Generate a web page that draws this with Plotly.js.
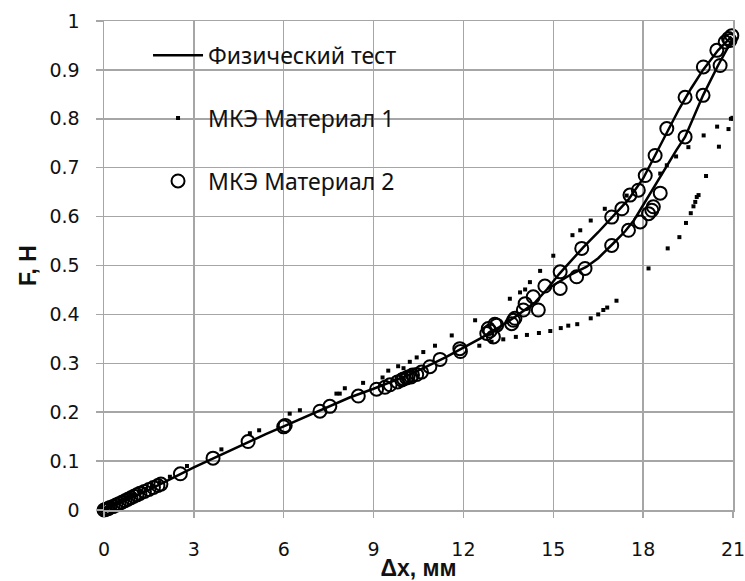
<!DOCTYPE html>
<html>
<head>
<meta charset="utf-8">
<script src="https://cdn.plot.ly/plotly-3.0.1.min.js"></script>
<style>html,body{margin:0;padding:0;background:#fff;}#chart{width:745px;height:581px;}</style>
</head>
<body>
<div id="chart"></div>
<script>
// Physical test, sample A (upper branch)
const testAx = [0, 0.5, 1, 1.5, 2, 2.5, 3, 3.6, 4.2, 4.8, 5.4, 6, 6.7, 7.5, 8.2, 9, 9.6, 10.2, 10.8, 11.4, 12, 12.6, 13.2, 13.8, 14.4, 14.8, 15.2, 15.6, 16, 16.5, 17, 17.5, 18, 18.4, 18.8, 19.2, 19.6, 20, 20.5, 20.95];
const testAy = [0, 0.013, 0.027, 0.041, 0.057, 0.072, 0.087, 0.104, 0.122, 0.139, 0.155, 0.171, 0.19, 0.212, 0.23, 0.248, 0.262, 0.277, 0.294, 0.312, 0.332, 0.352, 0.374, 0.398, 0.425, 0.452, 0.483, 0.51, 0.537, 0.568, 0.6, 0.634, 0.678, 0.725, 0.775, 0.82, 0.862, 0.9, 0.94, 0.968];
// Physical test, sample B (lower branch)
const testBx = [14.8, 15.2, 15.6, 16.1, 16.5, 17, 17.4, 17.7, 18.2, 18.7, 19.1, 19.4, 19.7, 20, 20.5, 21];
const testBy = [0.452, 0.467, 0.482, 0.497, 0.515, 0.545, 0.57, 0.593, 0.644, 0.697, 0.735, 0.763, 0.805, 0.848, 0.909, 0.965];

// FEM material 1 (small dots)
const mat1x = [0, 0.05, 0.1, 0.15, 0.2, 0.3, 0.4, 0.5, 0.6, 0.7, 0.8, 0.9, 1.0, 1.2, 1.4, 1.6, 1.85, 2.2, 2.77, 3.92, 4.87, 5.18, 6.2, 6.54, 7.76, 7.87, 8.04, 8.65, 9.3, 9.49, 9.82, 10.0, 10.21, 10.44, 10.66, 11.05, 11.61, 12.39,
  12.53, 12.94, 13.33, 13.75, 14.12, 14.52, 14.9, 15.25, 15.5, 15.8, 16.25, 16.5, 16.67, 16.8, 17.11,
  13.55, 13.89, 14.06, 14.22, 14.56, 15.0, 15.64, 15.9, 16.25, 16.72, 17.45, 18.57, 18.79, 19.1, 19.51, 20.02, 20.47, 20.85, 20.93, 20.98,
  18.18, 18.82, 19.21, 19.43, 19.59, 19.68, 19.74, 19.79, 19.85, 20.1, 20.53, 21.0];
const mat1y = [0, 0.002, 0.004, 0.005, 0.007, 0.01, 0.013, 0.016, 0.019, 0.022, 0.026, 0.029, 0.032, 0.037, 0.043, 0.049, 0.057, 0.068, 0.09, 0.124, 0.157, 0.163, 0.197, 0.204, 0.238, 0.238, 0.249, 0.26, 0.271, 0.285, 0.294, 0.29, 0.303, 0.312, 0.323, 0.336, 0.357, 0.388,
  0.336, 0.344, 0.349, 0.354, 0.358, 0.362, 0.366, 0.372, 0.377, 0.38, 0.392, 0.4, 0.409, 0.414, 0.428,
  0.432, 0.445, 0.451, 0.466, 0.489, 0.52, 0.562, 0.572, 0.592, 0.616, 0.643, 0.688, 0.705, 0.723, 0.742, 0.766, 0.784, 0.779, 0.8, 0.802,
  0.494, 0.535, 0.558, 0.587, 0.607, 0.621, 0.63, 0.64, 0.644, 0.683, 0.743, 0.8];

// FEM material 2 (open circles)
const mat2x = [0, 0.05, 0.1, 0.15, 0.2, 0.3, 0.4, 0.5, 0.6, 0.7, 0.8, 0.9, 1.0, 1.1, 1.2, 1.35, 1.5, 1.65, 1.8, 1.9, 2.55, 3.64, 4.81, 6.0, 6.05, 7.21, 7.54, 8.49, 9.1, 9.38, 9.55, 9.8, 9.94, 10.0, 10.1, 10.15, 10.25, 10.3, 10.44, 10.6, 10.88, 11.22, 11.88, 11.9,
  12.78, 12.83, 12.89, 13.0, 13.05, 13.11, 13.61, 13.67, 13.72, 14.0, 14.06, 14.33, 14.5, 14.72, 15.23, 15.23, 15.78, 16.06, 15.95, 16.95, 16.95, 17.29, 17.51, 17.56, 17.84, 17.9, 18.07, 18.18, 18.29, 18.34, 18.4, 18.57, 18.79,
  19.4, 19.4, 20.0, 20.01, 20.46, 20.57, 20.74, 20.85, 20.9, 20.96];
const mat2y = [0, 0.001, 0.002, 0.003, 0.005, 0.007, 0.01, 0.013, 0.016, 0.019, 0.022, 0.025, 0.028, 0.031, 0.034, 0.038, 0.042, 0.046, 0.05, 0.053, 0.074, 0.106, 0.14, 0.17, 0.173, 0.202, 0.212, 0.233, 0.247, 0.251, 0.256, 0.262, 0.266, 0.268, 0.27, 0.272, 0.272, 0.276, 0.277, 0.282, 0.293, 0.308, 0.33, 0.324,
  0.361, 0.371, 0.366, 0.354, 0.38, 0.378, 0.381, 0.388, 0.392, 0.409, 0.422, 0.436, 0.409, 0.458, 0.487, 0.453, 0.477, 0.494, 0.535, 0.541, 0.599, 0.616, 0.572, 0.644, 0.654, 0.589, 0.684, 0.606, 0.613, 0.62, 0.725, 0.648, 0.78,
  0.763, 0.844, 0.848, 0.906, 0.94, 0.909, 0.957, 0.964, 0.96, 0.97];

const xTicks = [0, 3, 6, 9, 12, 15, 18, 21];
const yTicks = [0, 0.1, 0.2, 0.3, 0.4, 0.5, 0.6, 0.7, 0.8, 0.9, 1];
const yTickText = ['0', '0.1', '0.2', '0.3', '0.4', '0.5', '0.6', '0.7', '0.8', '0.9', '1'];

const traces = [
  {x: testAx, y: testAy, type: 'scatter', mode: 'lines', name: 'Физический тест',
   line: {color: '#000', width: 2.5}, legendgroup: 'a', cliponaxis: false},
  {x: testBx, y: testBy, type: 'scatter', mode: 'lines', name: 'Физический тест',
   line: {color: '#000', width: 2.5}, showlegend: false, legendgroup: 'a', cliponaxis: false},
  {x: mat1x, y: mat1y, type: 'scatter', mode: 'markers', name: 'МКЭ Материал 1',
   marker: {symbol: 'square', size: 4, color: '#000'}, legendgroup: 'b', cliponaxis: false},
  {x: mat2x, y: mat2y, type: 'scatter', mode: 'markers', name: 'МКЭ Материал 2',
   marker: {symbol: 'circle-open', size: 13, color: '#000', line: {width: 2, color: '#000'}}, legendgroup: 'c', cliponaxis: false}
];

const gridCol = '#a6a6a6';
const layout = {
  width: 745, height: 581,
  margin: {l: 104, r: 12, t: 21, b: 71},
  paper_bgcolor: '#fff', plot_bgcolor: '#fff',
  showlegend: true,
  legend: {x: 0.07, y: 0.974, xanchor: 'left', yanchor: 'top', bgcolor: 'rgba(0,0,0,0)',
           font: {family: 'Noto Sans', size: 23, color: '#111'}, itemwidth: 50,
           tracegroupgap: 30, traceorder: 'grouped'},
  xaxis: {range: [0, 21], tickvals: xTicks, ticktext: xTicks.map(String),
          showgrid: true, gridcolor: gridCol, gridwidth: 1.5,
          showline: true, linecolor: gridCol, linewidth: 1.5, mirror: true,
          ticks: 'outside', ticklen: 6, tickcolor: gridCol, tickwidth: 1.5,
          ticklabelstandoff: 16, ticklabeloverflow: 'allow', zeroline: false,
          tickfont: {family: 'DejaVu Sans', size: 19, color: '#111'},
          title: {text: '<b>Δx, мм</b>', font: {family: 'Liberation Sans', size: 23, color: '#111'}, standoff: 1}},
  yaxis: {range: [0, 1], tickvals: yTicks, ticktext: yTickText,
          showgrid: true, gridcolor: gridCol, gridwidth: 1.5,
          showline: true, linecolor: gridCol, linewidth: 1.5, mirror: true,
          ticks: 'outside', ticklen: 7, tickcolor: gridCol, tickwidth: 1.5,
          ticklabelstandoff: 12, ticklabeloverflow: 'allow', zeroline: false,
          tickfont: {family: 'DejaVu Sans', size: 19, color: '#111'},
          title: {text: '<b>F, H</b>', font: {family: 'Liberation Sans', size: 23, color: '#111'}, standoff: 6}}
};

Plotly.newPlot('chart', traces, layout, {staticPlot: true, displayModeBar: false});
</script>
</body>
</html>
